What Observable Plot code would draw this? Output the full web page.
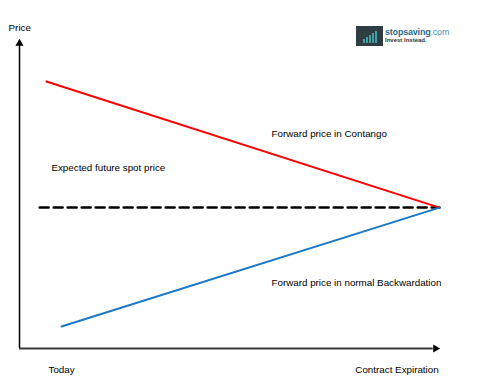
<!DOCTYPE html>
<html><head><meta charset="utf-8">
<script src="https://cdn.jsdelivr.net/npm/d3@7"></script>
<script src="https://cdn.jsdelivr.net/npm/@observablehq/plot@0.6"></script>
<style>
body{margin:0;background:#fff;font-family:"Liberation Sans",Arial,sans-serif}
#wrap{position:relative;width:482px;height:388px}
#logo{position:absolute;left:356px;top:26px;height:20px;display:flex;align-items:center}
#logo .box{width:27px;height:20px;background:#2f3d42;display:flex;align-items:flex-end;justify-content:center;gap:1px;padding-bottom:3px;box-sizing:border-box}
#logo .box span{display:block;width:2px;background:#3fa0a8}
#logo .txt{margin-left:2px;line-height:8px}
#logo .t1{font-size:9px;font-weight:bold;color:#2b6c8c;letter-spacing:-0.2px}
#logo .t1 em{font-style:normal;color:#4a95c0;font-weight:normal}
#logo .t2{font-size:6px;font-weight:bold;color:#333}
</style>
</head><body>
<div id="wrap"></div>
<script>
// Time axis: 0 = Today, 100 = Contract Expiration; price axis 0..100 (relative)
const axisLabels = ["Price", "Today", "Contract Expiration"];
const axisLabelX = [-2.6, 6.9, 99.8];
const axisLabelY = [103.9, -6.8, -6.8];
const axisLabelAnchor = ["start", "start", "end"];

const contangoX = [6.4, 100];
const contangoY = [86.4, 45.6];
const backwardationX = [10, 100];
const backwardationY = [7.1, 45.6];
const spotX = [4.8, 100];
const spotY = [45.6, 45.6];

const seriesNames = ["Forward price in Contango", "Expected future spot price", "Forward price in normal Backwardation"];
const seriesLabelX = [60.0, 7.6, 60.0];
const seriesLabelY = [69.6, 58.3, 21.4];

const toPts = (xs, ys) => xs.map((x, i) => ({x, y: ys[i]}));
const labels = axisLabels.map((t, i) => ({t, x: axisLabelX[i], y: axisLabelY[i], a: axisLabelAnchor[i]}))
  .concat(seriesNames.map((t, i) => ({t, x: seriesLabelX[i], y: seriesLabelY[i], a: "start"})));

const font = "Liberation Sans, Arial, sans-serif";
const chart = Plot.plot({
  width: 482, height: 388, margin: 0,
  style: {background: "#fff", fontFamily: font},
  x: {domain: [0, 100], range: [19, 439], axis: null},
  y: {domain: [0, 100], range: [348, 39], axis: null},
  marks: [
    Plot.ruleX([0], {y1: 0, y2: 99, stroke: "#000", strokeWidth: 1.5}),
    Plot.ruleY([0], {x1: 0, x2: 98.5, stroke: "#3a3a3a", strokeWidth: 2}),
    Plot.dot([{x: 0, y: 100}], {x: "x", y: "y", symbol: "triangle", r: 3, fill: "#000", stroke: "none", dy: 4}),
    Plot.dot([{x: 100, y: 0}], {x: "x", y: "y", symbol: "triangle", r: 3, fill: "#000", stroke: "none", rotate: 90, dx: -4}),
    Plot.line(toPts(spotX, spotY), {x: "x", y: "y", stroke: "#000", strokeWidth: 2.5, strokeDasharray: "9,5"}),
    Plot.line(toPts(contangoX, contangoY), {x: "x", y: "y", stroke: "#ff0000", strokeWidth: 2}),
    Plot.line(toPts(backwardationX, backwardationY), {x: "x", y: "y", stroke: "#1a78c6", strokeWidth: 2}),
    Plot.text(labels.filter(d => d.a === "start"), {x: "x", y: "y", text: "t", textAnchor: "start", fontSize: 9.8, fontFamily: font, fill: "#000"}),
    Plot.text(labels.filter(d => d.a === "end"), {x: "x", y: "y", text: "t", textAnchor: "end", fontSize: 9.8, fontFamily: font, fill: "#000"})
  ]
});
const wrap = document.getElementById("wrap");
wrap.appendChild(chart);
const logo = document.createElement("div");
logo.id = "logo";
logo.innerHTML = '<div class="box"><span style="height:4px"></span><span style="height:6px"></span><span style="height:8px"></span><span style="height:10px"></span><span style="height:12px"></span></div>' +
  '<div class="txt"><div class="t1">stopsaving<em>.com</em></div><div class="t2">Invest Instead.</div></div>';
wrap.appendChild(logo);
</script>
</body></html>
